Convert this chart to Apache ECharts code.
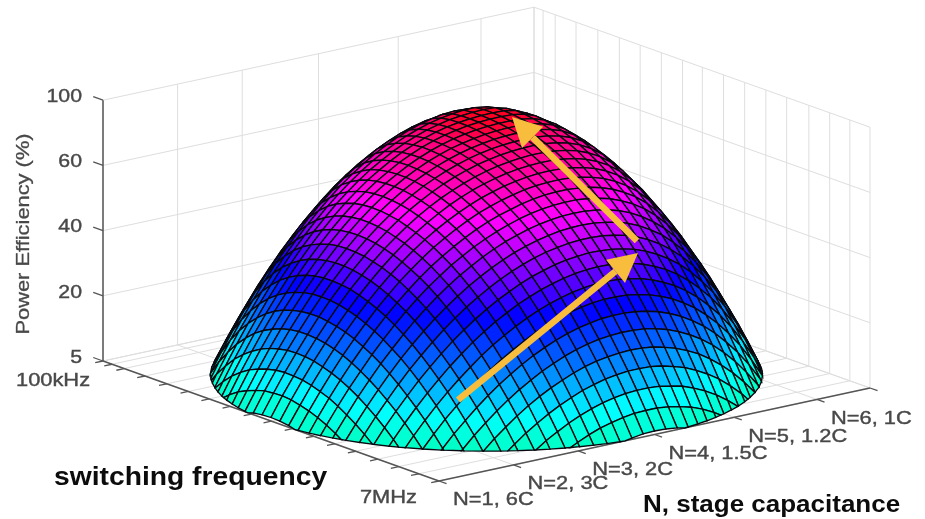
<!DOCTYPE html>
<html><head><meta charset="utf-8"><style>html,body{margin:0;background:#fff}#c{width:925px;height:519px}</style>
<script src="https://cdn.jsdelivr.net/npm/echarts@6/dist/echarts.min.js"></script></head><body><div id="c"></div>
<script>
const zTickValues=[5,20,40,60,100];
const zTickLabels=['5','20','40','60','100'];
const stageLabels=['N=1, 6C','N=2, 3C','N=3, 2C','N=4, 1.5C','N=5, 1.2C','N=6, 1C',''];
const stageTicks=[0,.173,.323,.5,.685,.877,1];
const freqTicks=[0,.027,.063,.125,.19,.254,.316,.379,.442,.501,.564,.627,.69,.752,.818,.88,.94,1];
const freqLabels={1:'100kHz',17:'7MHz'};
// Power efficiency in tenths of a percent; rows run from 7MHz to 100kHz, columns from N=1 to N=6.
const efficiencyTenths=[
[0,0,0,0,0,0,0,0,0,0,0,0,7,20,32,41,48,53,57,58,57,54,48,40,29,16,0,0,0,0,0,0,0,0,0,0,0,0,0],
[0,0,0,0,0,0,0,0,0,0,13,30,45,58,70,80,87,93,97,98,98,95,90,83,73,60,44,25,3,0,0,0,0,0,0,0,0,0,0],
[0,0,0,0,0,0,0,0,8,29,48,66,81,95,107,117,125,131,135,137,137,135,130,124,114,102,87,69,48,23,0,0,0,0,0,0,0,0,0],
[0,0,0,0,0,0,0,18,41,62,82,99,115,129,141,152,160,167,171,174,174,173,169,162,154,142,128,111,90,66,38,7,0,0,0,0,0,0,0],
[0,0,0,0,0,0,24,49,73,94,114,132,148,162,174,185,194,201,207,211,213,211,207,199,191,180,167,150,130,107,80,49,14,0,0,0,0,0,0],
[0,0,0,0,0,26,53,79,102,124,144,162,178,193,207,222,234,244,251,255,257,256,253,246,236,222,205,188,169,146,120,89,55,15,0,0,0,0,0],
[0,0,0,0,24,53,81,106,130,152,172,190,209,229,246,261,274,284,291,297,299,299,296,290,281,268,252,231,207,183,157,128,94,55,11,0,0,0,0],
[0,0,0,18,49,79,107,132,156,179,199,223,245,265,283,298,311,322,330,336,339,339,337,331,323,311,296,276,253,224,193,164,131,92,49,5,0,0,0],
[0,0,7,41,73,103,131,157,181,204,232,257,279,299,317,333,346,357,366,372,376,377,375,370,363,352,337,319,296,269,236,199,166,128,85,36,0,0,0],
[0,0,29,63,95,125,153,179,205,235,263,288,311,331,350,365,379,390,399,406,410,412,411,407,400,390,376,359,337,310,278,242,199,161,119,70,15,0,0],
[0,12,48,83,115,145,174,200,233,264,291,317,340,361,379,396,410,421,431,438,442,445,444,441,435,426,413,396,375,350,319,282,240,193,150,102,47,0,0],
[0,29,66,101,133,164,193,226,259,290,318,344,367,388,407,424,438,450,460,467,472,475,475,473,467,459,447,431,411,386,356,321,279,230,180,132,77,15,0],
[6,45,82,117,150,181,214,250,283,314,342,368,392,413,432,449,464,476,486,494,500,503,504,502,497,490,479,464,444,421,391,356,315,266,210,159,104,41,0],
[19,59,96,132,165,197,234,271,305,336,365,391,415,436,456,473,488,500,511,519,525,529,530,529,525,518,508,494,475,452,424,390,349,300,244,184,129,65,6],
[31,71,109,145,178,214,253,290,324,356,385,411,436,457,477,494,509,522,533,542,548,552,554,554,550,544,535,521,504,482,454,420,380,331,275,209,151,87,15],
[40,81,120,156,190,229,269,307,341,373,403,430,454,476,496,514,529,542,552,562,569,574,576,576,573,568,559,547,530,509,482,448,408,360,303,237,171,106,32],
[48,89,128,165,200,243,283,321,356,389,418,446,471,493,513,531,547,560,571,580,588,593,595,596,594,589,581,570,554,533,507,474,434,385,328,261,187,121,46],
[54,95,135,172,210,254,295,333,369,402,432,460,485,508,528,546,562,576,587,597,608,619,626,628,625,617,603,591,576,556,530,497,456,408,349,281,202,134,57],
[57,100,140,178,218,262,304,343,379,413,444,472,497,520,541,560,576,590,603,622,638,649,656,659,658,651,639,619,595,576,550,517,477,427,367,298,216,143,64],
[58,102,142,181,223,268,311,351,387,421,453,481,507,531,552,571,587,603,627,647,663,675,683,687,686,681,670,652,624,593,568,535,494,443,382,310,226,148,66],
[57,101,143,182,225,272,315,355,393,428,460,489,516,540,561,580,597,623,647,668,684,697,705,710,711,707,697,680,654,617,583,550,507,455,392,318,231,149,65],
[54,99,141,181,225,272,316,357,396,431,464,494,521,546,568,588,609,639,664,685,702,715,724,729,731,728,720,704,680,643,596,562,518,463,398,320,230,145,58],
[48,93,136,177,221,269,315,357,396,432,466,497,525,550,573,593,621,651,677,699,716,729,739,745,747,746,739,725,701,664,611,570,524,467,398,317,223,136,45],
[39,85,129,171,214,263,310,353,393,431,465,497,526,552,575,596,628,660,686,709,726,740,750,757,760,759,754,741,717,679,624,574,526,465,393,307,208,122,27],
[27,75,120,162,203,254,301,346,387,426,461,494,524,551,575,596,631,664,692,715,734,748,759,765,769,769,765,753,729,689,629,574,522,457,380,290,189,101,2],
[12,61,107,150,192,241,289,335,378,417,454,488,519,547,572,594,629,663,693,717,737,752,764,771,775,776,773,761,735,690,624,568,511,442,359,264,165,73,0],
[0,44,91,135,178,223,273,320,364,405,443,478,510,539,566,589,620,657,688,715,736,753,765,773,778,779,777,764,733,681,606,554,492,418,329,228,134,36,0],
[0,23,71,117,160,201,253,301,346,389,428,464,498,528,556,581,605,644,678,706,730,748,763,772,778,780,777,757,718,656,586,531,464,383,289,186,94,0,0],
[0,0,47,94,139,181,227,277,324,368,408,446,481,512,541,567,591,623,659,690,716,737,753,764,772,773,762,734,684,612,558,497,424,337,236,141,45,0,0],
[0,0,20,68,113,157,197,248,296,341,383,422,458,491,522,549,574,596,630,663,691,713,731,743,748,744,725,687,627,572,518,451,371,278,178,87,0,0,0],
[0,0,0,37,84,128,170,212,262,309,352,392,430,464,496,525,550,573,594,622,651,675,692,702,702,690,662,613,571,524,464,391,305,205,118,22,0,0,0],
[0,0,0,1,49,94,137,178,221,269,314,356,395,430,463,493,519,543,564,582,597,615,630,636,630,609,585,556,515,461,395,316,224,138,48,0,0,0,0],
[0,0,0,0,9,55,99,141,180,223,269,312,351,388,422,452,480,504,525,543,557,566,572,571,564,549,525,490,443,383,311,226,145,60,0,0,0,0,0],
[0,0,0,0,0,10,55,98,138,176,215,259,300,337,371,402,430,454,475,492,504,512,514,510,499,479,449,408,355,290,211,140,60,0,0,0,0,0,0],
[0,0,0,0,0,0,5,49,90,128,164,198,238,276,311,342,369,393,412,428,438,443,442,434,418,392,357,310,251,185,121,47,0,0,0,0,0,0,0],
[0,0,0,0,0,0,0,0,34,73,109,143,175,204,239,269,296,319,337,350,358,360,355,342,321,290,248,197,148,89,21,0,0,0,0,0,0,0,0],
[0,0,0,0,0,0,0,0,0,10,46,81,112,140,166,188,210,231,247,257,262,260,251,233,207,178,142,98,44,0,0,0,0,0,0,0,0,0,0],
[0,0,0,0,0,0,0,0,0,0,0,9,40,68,93,114,132,146,156,162,163,158,148,131,107,75,35,0,0,0,0,0,0,0,0,0,0,0,0],
[0,0,0,0,0,0,0,0,0,0,0,0,0,0,9,29,46,58,66,69,67,59,45,24,0,0,0,0,0,0,0,0,0,0,0,0,0,0,0]
];
const A=[103,361],B=[439,481],C=[870,388],ZH=65.2;
const n=efficiencyTenths.length-1;
function zPos(e){const t=zTickValues;if(e<=t[0])return (e-5)/15;for(let k=1;k<t.length;k++)if(e<=t[k])return k-1+(e-t[k-1])/(t[k]-t[k-1]);return 4;}
function proj(u,v,p){return [B[0]+u*(C[0]-B[0])+v*(A[0]-B[0]),B[1]+u*(C[1]-B[1])+v*(A[1]-B[1])-p*ZH];}
const stops=[[0,0,255,190],[.4,0,255,255],[1,0,120,255],[1.6,0,0,255],[2.15,140,0,255],[2.65,255,0,255],[3.3,255,0,120],[3.5,255,0,0]];
function col(p){if(p<=stops[0][0])p=stops[0][0];for(let k=1;k<stops.length;k++){if(p<=stops[k][0]){const a=stops[k-1],b=stops[k],f=(p-a[0])/(b[0]-a[0]);return `rgb(${a[1]+f*(b[1]-a[1])|0},${a[2]+f*(b[2]-a[2])|0},${a[3]+f*(b[3]-a[3])|0})`;}}return 'rgb(255,0,0)';}
const cells=[];for(let j=0;j<n;j++)for(let i=0;i<n;i++)cells.push([i,j]);
cells.sort((a,b)=>(b[0]+b[1])-(a[0]+a[1]));
function clip(poly){const out=[];for(let k=0;k<poly.length;k++){const a=poly[k],b=poly[(k+1)%poly.length];if(a[2]>=0)out.push(a);if((a[2]>=0)!==(b[2]>=0)){const f=a[2]/(a[2]-b[2]);out.push([a[0]+f*(b[0]-a[0]),a[1]+f*(b[1]-a[1]),0]);}}return out;}
function renderCell(par,api){const i=api.value(0),j=api.value(1);const c=[[i,j],[i+1,j],[i+1,j+1],[i,j+1]].map(q=>[q[0]/n,q[1]/n,zPos(efficiencyTenths[q[1]][q[0]]/10)]);
 const pg=clip(c);if(pg.length<3)return null;const m=c.reduce((s,q)=>s+Math.max(q[2],0),0)/4;
 return {type:'polygon',shape:{points:pg.map(q=>api.coord(proj(q[0],q[1],q[2])))},style:{fill:col(m),stroke:'#08080f',lineWidth:1.35}};}
const gridCol='#dedede';
const lines=[];
stageTicks.forEach(t=>{lines.push([[t,1,0],[t,1,4],gridCol,1]);lines.push([[t,0,0],[t,1,0],gridCol,1]);});
freqTicks.forEach(f=>{const v=1-f;lines.push([[1,v,0],[1,v,4],gridCol,1]);lines.push([[0,v,0],[1,v,0],gridCol,1]);});
zTickValues.forEach((_,k)=>{lines.push([[0,1,k],[1,1,k],gridCol,1]);lines.push([[1,1,k],[1,0,k],gridCol,1]);});
const axisLines=[[[0,1,0],[0,1,4],'#555',1.5],[[0,1,0],[0,0,0],'#555',1.5],[[0,0,0],[1,0,0],'#555',1.5]];
const tk=8/Math.hypot(431,93),tv=8/Math.hypot(336,120);
const tickLines=[];
stageTicks.forEach(t=>tickLines.push([[t,0,0],[t,-tv,0],'#555',1.3]));
freqTicks.forEach(f=>tickLines.push([[-tk,1-f,0],[0,1-f,0],'#555',1.3]));
zTickValues.forEach((_,k)=>tickLines.push([[0,1,k],[0,1+tv*1.3,k],'#555',1.3]));
const texts=[];
const gray='#484848';
zTickLabels.forEach((s,k)=>{const p=proj(0,1,k);texts.push({s,x:p[0]-21,y:p[1]-3.5,a:'right',size:19,sx:1.12,w:'normal',c:gray,b:.4});});
stageLabels.forEach((s,k)=>{if(!s)return;const p=proj(stageTicks[k],0,0);texts.push({s,x:p[0]+14,y:p[1]+19,a:'left',size:19,sx:1.15,w:'normal',c:gray,b:.4});});
Object.keys(freqLabels).forEach(k=>{const p=proj(0,1-freqTicks[k],0);texts.push({s:freqLabels[k],x:p[0]-22,y:p[1]+17,a:'right',size:19,sx:1.15,w:'normal',c:gray,b:.4});});
texts.push({s:'Power Efficiency (%)',x:24,y:234,a:'center',size:19,sx:1.15,w:'normal',c:gray,rot:Math.PI/2,b:.3});
texts.push({s:'switching frequency',x:54,y:478,a:'left',size:25,sx:1.13,w:'bold',c:'#0c0c0c'});
texts.push({s:'N, stage capacitance',x:643,y:506,a:'left',size:23,sx:1.13,w:'bold',c:'#0c0c0c'});
const arrowPaths=[[458,400,638,253],[637,241,512,117]];
function renderArrow(par,api){const [x1,y1,x2,y2]=arrowPaths[api.value(0)];const L=Math.hypot(x2-x1,y2-y1),ux=(x2-x1)/L,uy=(y2-y1)/L,nx=-uy,ny=ux,hl=29,hw=15;
 const P=q=>api.coord(q);const nk=[x2-ux*hl,y2-uy*hl];const s=P([x1,y1]),e=P(nk);
 return {type:'group',children:[{type:'line',shape:{x1:s[0],y1:s[1],x2:e[0],y2:e[1]},style:{stroke:'#f8bd3c',lineWidth:6.5}},
 {type:'polygon',shape:{points:[P([x2,y2]),P([nk[0]+nx*hw,nk[1]+ny*hw]),P([nk[0]-nx*hw,nk[1]-ny*hw])]},style:{fill:'#f8bd3c'}}]};}
const lineSeries=(d,z)=>({type:'custom',coordinateSystem:'cartesian2d',z,silent:true,animation:false,clip:false,data:d.map((_,k)=>[k]),renderItem:(par,api)=>{const l=d[api.value(0)];const a=api.coord(proj(...l[0])),b=api.coord(proj(...l[1]));return {type:'line',shape:{x1:a[0],y1:a[1],x2:b[0],y2:b[1]},style:{stroke:l[2],lineWidth:l[3]}};}});
const chart=echarts.init(document.getElementById('c'),null,{renderer:'canvas'});
chart.setOption({animation:false,backgroundColor:'#fff',grid:{left:0,right:0,top:0,bottom:0},xAxis:{type:'value',min:0,max:925,show:false},yAxis:{type:'value',min:0,max:519,inverse:true,show:false},
series:[lineSeries(lines,1),lineSeries(axisLines,2),lineSeries(tickLines,2),
{type:'custom',coordinateSystem:'cartesian2d',z:3,silent:true,animation:false,progressive:0,clip:false,data:cells,renderItem:renderCell},
{type:'custom',coordinateSystem:'cartesian2d',z:4,silent:true,animation:false,data:arrowPaths.map((_,k)=>[k]),renderItem:renderArrow},
{type:'custom',coordinateSystem:'cartesian2d',z:5,silent:true,animation:false,clip:false,data:texts.map((_,k)=>[k]),renderItem:(par,api)=>{const t=texts[api.value(0)];const p=api.coord([t.x,t.y]);return {type:'text',x:p[0],y:p[1],scaleX:t.sx,rotation:t.rot||0,style:{text:t.s,textAlign:t.a,textVerticalAlign:'middle',font:`${t.w} ${t.size}px "Liberation Sans"`,fill:t.c,stroke:t.b?t.c:null,lineWidth:t.b||0}};}}
]});
</script></body></html>
